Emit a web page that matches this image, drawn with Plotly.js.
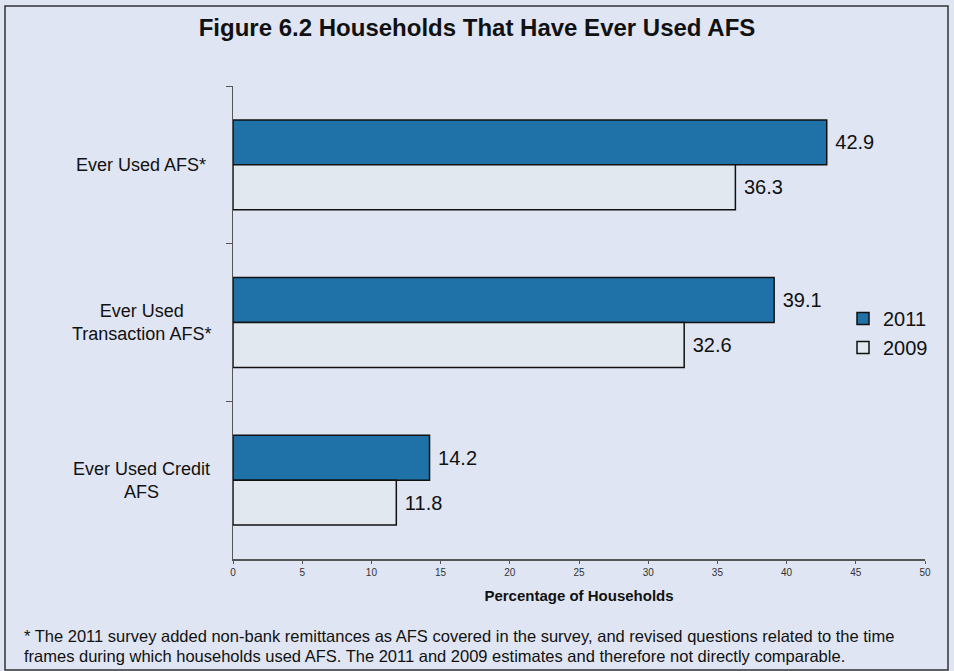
<!DOCTYPE html>
<html>
<head>
<meta charset="utf-8">
<script src="https://cdn.plot.ly/plotly-3.0.1.min.js"></script>
<style>
html,body{margin:0;padding:0;background:#dfe5f2;}
#chart{width:954px;height:671px;}
</style>
</head>
<body>
<div id="chart"></div>
<script>
var categories = ["Ever Used AFS*", "Ever Used<br>Transaction AFS*", "Ever Used Credit<br>AFS"];
var values2011 = [42.9, 39.1, 14.2];
var values2009 = [36.3, 32.6, 11.8];
var seriesNames = ["2011", "2009"];
var xTicks = [0, 5, 10, 15, 20, 25, 30, 35, 40, 45, 50];
var footnoteLines = [
  "* The 2011 survey added non-bank remittances as AFS covered in the survey, and revised questions related to the time",
  "frames during which households used AFS. The 2011 and 2009 estimates and therefore not directly comparable."
];

var L = 233, R = 954 - 925, T = 86, B = 671 - 559;
var W = 954 - L - R, H = 671 - T - B;
function px(x){ return (x - L) / W; }
function py(y){ return (671 - B - y) / H; }

var font = "Arial, 'Liberation Sans', sans-serif";

var traces = [
  {type:'bar', orientation:'h', name:seriesNames[0], y:categories, x:values2011,
   marker:{color:'#1f72a7', line:{color:'#111', width:1.5}},
   text:values2011.map(function(v){return ' ' + v.toFixed(1);}), textposition:'outside',
   textfont:{size:20, color:'#111', family:font}, cliponaxis:false},
  {type:'bar', orientation:'h', name:seriesNames[1], y:categories, x:values2009,
   marker:{color:'#e2e8f0', line:{color:'#111', width:1.5}},
   text:values2009.map(function(v){return ' ' + v.toFixed(1);}), textposition:'outside',
   textfont:{size:20, color:'#111', family:font}, cliponaxis:false}
];

var annotations = categories.map(function(c){
  return {xref:'paper', yref:'y', x:px(141), y:c, text:c, showarrow:false,
          xanchor:'center', yanchor:'middle', align:'center',
          font:{size:18, color:'#111', family:font}};
});
footnoteLines.forEach(function(line, i){
  annotations.push({xref:'paper', yref:'paper', x:px(22), y:py(636 + 20 * i), text:line,
    showarrow:false, xanchor:'left', yanchor:'middle', align:'left',
    font:{size:16.5, color:'#111', family:font}});
});

var layout = {
  width:954, height:671,
  paper_bgcolor:'#dfe5f2', plot_bgcolor:'#dfe5f2',
  margin:{l:L, r:R, t:T, b:B, pad:0},
  font:{family:font, color:'#111'},
  title:{text:'<b>Figure 6.2 Households That Have Ever Used AFS</b>', x:0.5, xref:'container',
         y:1 - 28/671, yref:'container', yanchor:'middle', font:{size:24, color:'#111', family:font}},
  barmode:'group', bargap:0.43, bargroupgap:0,
  xaxis:{range:[0,50], tickvals:xTicks, ticktext:xTicks.map(String), showgrid:false, zeroline:false,
         showline:true, linecolor:'#555', linewidth:1.5, ticks:'outside', ticklen:3, tickcolor:'#555',
         tickfont:{size:10, color:'#333', family:font},
         title:{text:'<b>Percentage of Households</b>', font:{size:15, color:'#111', family:font}, standoff:14}},
  yaxis:{autorange:'reversed', showticklabels:false, showgrid:false, zeroline:false,
         showline:true, linecolor:'#555', linewidth:1.5, ticks:'outside', ticklen:6, tickcolor:'#555',
         tickson:'boundaries'},
  showlegend:true,
  legend:{x:px(843), y:py(333), xanchor:'left', yanchor:'middle', bgcolor:'rgba(0,0,0,0)',
          font:{size:20, color:'#111', family:font}, traceorder:'normal', tracegroupgap:0},
  annotations:annotations,
  shapes:[{type:'rect', xref:'paper', yref:'paper', x0:px(5), x1:px(948), y0:py(670), y1:py(6),
           line:{color:'#333', width:1.5}, fillcolor:'rgba(0,0,0,0)', layer:'below'}]
};

Plotly.newPlot('chart', traces, layout, {displayModeBar:false, staticPlot:true});
</script>
</body>
</html>
